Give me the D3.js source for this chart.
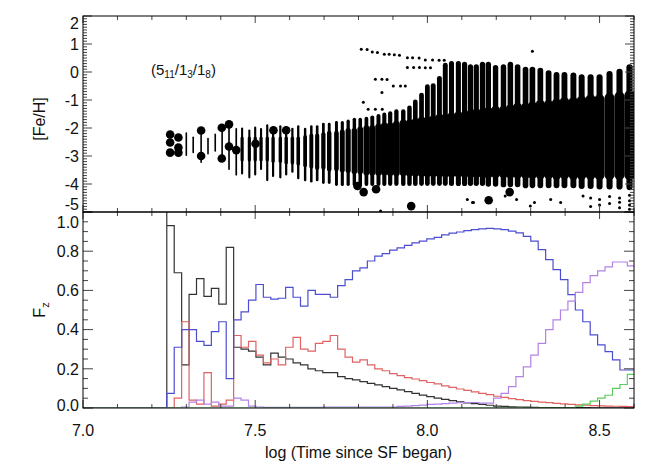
<!DOCTYPE html>
<html><head><meta charset="utf-8">
<script src="https://cdn.jsdelivr.net/npm/d3@7/dist/d3.min.js"></script>
<style>
body{margin:0;background:#fff}
svg{display:block}
text{font-family:"Liberation Sans",Arial,Helvetica,sans-serif;fill:#111}
</style>
</head><body>
<svg id="chart" width="647" height="464"></svg>
<script>
// ---- top panel: columns of stars ([Fe/H] spread per time step)
const colT = [7.300,7.320,7.343,7.363,7.384,7.404,7.424,7.445,
  7.462,7.483,7.500,7.517,7.535,7.552,7.573,7.590,7.608,7.625,
  7.645,7.663,7.680,7.698,7.715,7.736,7.753,7.770,7.788,7.805,
  7.823,7.840,7.858,7.875,7.892,7.910,7.930,7.948,7.965,7.983,
  8.000,8.017,8.035,8.052,8.070,8.090,8.108,8.125,8.142,8.160,
  8.177,8.198,8.221,8.241,8.262,8.285,8.305,8.328,8.352,8.375,
  8.398,8.424,8.448,8.474,8.500,8.529,8.558,8.587]
const colHi = [-2.15,-2.3,-2.2,-2.35,-2.2,-2.0,-1.95,-2.0,
  -1.98,-2.05,-1.95,-2.0,-1.87,-1.95,-1.9,-1.95,-1.99,-1.9,
  -1.99,-1.9,-1.9,-1.81,-1.81,-1.75,-1.75,-1.7,-1.63,-1.63,
  -1.6,-1.55,-1.5,-1.45,-1.4,-1.33,-1.33,-1.2,-0.98,-0.74,
  -0.44,-0.40,-0.14,0.33,0.39,0.39,0.37,0.28,0.28,0.37,
  0.37,0.25,0.28,0.37,0.28,0.19,0.19,0.15,0.06,0.0,
  0.0,-0.02,-0.08,-0.08,-0.08,0.04,0.12,0.28]
const colLo = [-3.0,-2.9,-3.25,-2.95,-2.85,-3.1,-3.5,-3.7,
  -3.66,-3.8,-3.7,-3.5,-3.9,-3.75,-3.8,-3.7,-3.6,-3.83,
  -3.9,-3.95,-3.9,-4.0,-4.0,-4.07,-4.07,-4.07,-4.07,-4.1,
  -4.07,-4.07,-4.07,-4.07,-4.07,-4.07,-4.07,-4.07,-4.07,-4.07,
  -4.07,-4.07,-4.07,-4.07,-4.07,-4.07,-4.07,-4.07,-4.07,-4.07,
  -4.1,-4.1,-4.12,-4.12,-4.12,-4.15,-4.15,-4.15,-4.15,-4.15,
  -4.15,-4.15,-4.18,-4.18,-4.2,-4.2,-4.2,-4.22]
const coreHi = [null,null,null,null,null,null,null,null,
  -2.3,-2.3,-2.3,-2.3,-2.3,-2.3,-2.3,-2.3,-2.3,-2.3,
  -2.25,-2.2,-2.2,-2.15,-2.1,-2.1,-2.05,-2.0,-2.0,-1.95,
  -1.9,-1.9,-1.85,-1.8,-1.8,-1.75,-1.7,-1.7,-1.65,-1.6,
  -1.6,-1.55,-1.5,-1.5,-1.45,-1.4,-1.4,-1.35,-1.3,-1.3,
  -1.25,-1.2,-1.2,-1.15,-1.1,-1.1,-1.05,-1.0,-1.0,-0.95,
  -0.9,-0.9,-0.85,-0.8,-0.8,-0.75,-0.7,-0.65]
const coreLo = [null,null,null,null,null,null,null,null,
  -3.2,-3.2,-3.2,-3.2,-3.2,-3.25,-3.25,-3.3,-3.3,-3.35,
  -3.4,-3.45,-3.5,-3.5,-3.55,-3.55,-3.6,-3.6,-3.65,-3.65,
  -3.7,-3.7,-3.7,-3.7,-3.72,-3.72,-3.72,-3.74,-3.74,-3.74,
  -3.75,-3.75,-3.76,-3.76,-3.77,-3.77,-3.78,-3.78,-3.79,-3.79,
  -3.8,-3.8,-3.8,-3.81,-3.81,-3.82,-3.82,-3.83,-3.83,-3.84,
  -3.84,-3.85,-3.85,-3.85,-3.86,-3.86,-3.86,-3.87]
const colN = [0.04,0.04,0.04,0.04,0.04,0.04,0.05,0.06,
  0.13,0.13,0.14,0.14,0.15,0.15,0.16,0.16,0.17,0.18,
  0.2,0.22,0.24,0.26,0.28,0.3,0.33,0.36,0.39,0.42,
  0.45,0.48,0.5,0.52,0.54,0.56,0.58,0.6,0.62,0.64,
  0.65,0.66,0.67,0.68,0.7,0.71,0.72,0.73,0.74,0.75,
  0.76,0.77,0.78,0.79,0.8,0.81,0.82,0.83,0.84,0.85,
  0.86,0.87,0.88,0.89,0.9,0.91,0.92,0.93]

// large symbols
const bigT = [7.253,7.253,7.253,7.277,7.277,7.277,7.343,7.343,7.403,7.424,7.424,7.403,7.445,
  7.501,7.553,7.590,7.797,7.815,7.851,7.953,8.178,8.239]
const bigF = [-2.23,-2.52,-2.88,-2.34,-2.70,-2.88,-2.09,-3.0,-1.99,-1.87,-2.66,-3.09,-2.79,
  -2.56,-2.08,-2.08,-4.07,-4.29,-4.19,-4.79,-4.58,-4.29]

// isolated small symbols
const dotT = [7.808,7.825,7.840,7.855,7.875,7.889,7.904,7.919,7.942,7.957,7.976,7.994,8.015,8.034,8.049,
  7.942,7.960,7.977,7.994,8.009,
  7.849,7.868,7.883,7.901,7.922,7.936,7.868,7.814,7.828,7.849,7.869,8.305,
  8.134,8.226,8.259,8.299,8.311,8.358,8.387,8.452,8.474,8.474,8.500,8.500,8.529,8.529,
  8.558,8.558,8.558,8.587,8.587,8.587,8.587,8.116,8.131,7.864]
const dotF = [0.81,0.80,0.71,0.70,0.63,0.63,0.62,0.60,0.51,0.51,0.50,0.43,0.43,0.42,0.42,
  0.16,0.16,0.16,0.15,0.15,
  -0.26,-0.26,-0.27,-0.5,-0.5,-0.5,-0.73,-1.08,-1.33,-1.33,-1.33,0.74,
  -4.66,-4.43,-4.55,-4.79,-4.66,-4.55,-4.66,-4.43,-4.5,-4.8,-4.55,-4.75,-4.45,-4.7,
  -4.5,-4.65,-4.85,-4.4,-4.6,-4.75,-4.9,-4.55,-4.66,-4.96]

// ---- bottom panel: fraction per metallicity group, histogram bins
const binStart = 7.2433
const binW = 0.02157
const blackFirstPeak = 1.0   // first black bin runs off the top of the axis
const fBlack = [0.93,0.69,0.22,0.58,0.66,0.57,0.61,0.53,0.82,0.31,0.30,0.29,0.26,0.22,0.28,0.26,
  0.25,0.23,0.22,0.20,0.19,0.18,0.18,0.16,0.15,0.143,0.135,0.126,0.118,0.109,0.10,0.092,
  0.084,0.075,0.066,0.058,0.05,0.044,0.038,0.032,0.026,0.022,0.018,0.014,0.010,0.008,0.006,
  0.005,0.004,0.003,0.002,0.002,0.002,0.002,0.002,0.002,0.002,0.001,0.001,0.001,0.001,0.001,0.001]
const fRed = [0,0.05,0.44,0.04,0.02,0.18,0.01,0.02,0.04,0.37,0.31,0.34,0.27,0.23,0.25,0.22,
  0.31,0.36,0.30,0.29,0.33,0.34,0.37,0.30,0.26,0.234,0.246,0.22,0.20,0.19,0.175,0.165,
  0.155,0.148,0.14,0.13,0.123,0.113,0.105,0.097,0.09,0.082,0.075,0.068,0.06,0.054,0.048,
  0.043,0.038,0.034,0.03,0.027,0.024,0.021,0.018,0.016,0.014,0.012,0.011,0.01,0.009,0.008,0.007]
const fBlue = [0.075,0.31,0.40,0.40,0.34,0.32,0.39,0.44,0.15,0.45,0.49,0.55,0.63,0.565,0.555,0.56,
  0.615,0.565,0.52,0.60,0.58,0.58,0.565,0.624,0.655,0.70,0.715,0.75,0.775,0.788,0.805,0.817,
  0.83,0.842,0.851,0.863,0.871,0.883,0.892,0.898,0.905,0.91,0.914,0.916,0.914,0.91,0.902,
  0.893,0.876,0.851,0.808,0.757,0.706,0.655,0.578,0.50,0.44,0.373,0.322,0.288,0.246,0.194,0.194]
const fPurple = [0,0,0.005,0.03,0.04,0.02,0.03,0.01,0.01,0.05,0.04,0.01,0.005,0.003,0.003,0.003,
  0.003,0.003,0.003,0.003,0.003,0.005,0.005,0.005,0.005,0.005,0.005,0.005,0.005,0.005,0.005,0.008,
  0.01,0.012,0.015,0.018,0.02,0.022,0.025,0.027,0.028,0.028,0.025,0.025,0.05,0.075,0.109,
  0.16,0.21,0.27,0.33,0.40,0.45,0.50,0.545,0.59,0.64,0.675,0.70,0.72,0.745,0.745,0.725]
const fGreen = [0,0,0,0,0,0,0,0,0,0,0,0,0,0,0,0,
  0,0,0,0,0,0,0,0,0,0,0,0,0,0,0,0,
  0,0,0,0,0,0,0,0,0,0,0,0,0,0,0,
  0,0,0,0,0,0,0,0,0.01,0.02,0.035,0.05,0.065,0.1,0.12,0.172]

const xTicks = [7.0, 7.5, 8.0, 8.5]
const feTicks = [2, 1, 0, -1, -2, -3, -4, -5]
const fzTicks = [0.0, 0.2, 0.4, 0.6, 0.8, 1.0]

// ---- layout
const L = 83, R = 634, T = 16, M = 212, B = 408
const svg = d3.select('#chart')
const x = d3.scaleLinear().domain([7.0, 8.6]).range([L, R])
const yFe = d3.scaleLinear().domain([-5, 2]).range([M, T])
const yFz = d3.scaleLinear().domain([0, 1]).range([B, M])
const thinW = d3.scaleLinear().domain([0, 1]).range([1.4, 6.6])
const coreW = d3.scaleLinear().domain([0, 1]).range([2, 10.8])

const defs = svg.append('defs')
defs.append('clipPath').attr('id', 'clipTop')
  .append('rect').attr('x', L).attr('y', T).attr('width', R - L).attr('height', M - T)
defs.append('clipPath').attr('id', 'clipBot')
  .append('rect').attr('x', L).attr('y', M).attr('width', R - L).attr('height', B - M)

// top panel marks
const cols = colT.map((t, i) => ({ t, hi: colHi[i], lo: colLo[i], ch: coreHi[i], cl: coreLo[i], n: colN[i] }))
const gTop = svg.append('g').attr('clip-path', 'url(#clipTop)')
gTop.selectAll('rect.thin').data(cols).join('rect').attr('class', 'thin')
  .attr('x', d => x(d.t) - thinW(d.n) / 2)
  .attr('width', d => thinW(d.n))
  .attr('y', d => yFe(d.hi))
  .attr('height', d => yFe(d.lo) - yFe(d.hi))
  .attr('rx', d => thinW(d.n) / 2)
  .attr('fill', '#000')
gTop.selectAll('rect.core').data(cols.filter(d => d.ch !== null)).join('rect').attr('class', 'core')
  .attr('x', d => x(d.t) - coreW(d.n) / 2)
  .attr('width', d => coreW(d.n))
  .attr('y', d => yFe(d.ch))
  .attr('height', d => yFe(d.cl) - yFe(d.ch))
  .attr('rx', d => coreW(d.n) / 2)
  .attr('fill', '#000')
gTop.selectAll('circle.dot').data(dotT.map((t, i) => [t, dotF[i]])).join('circle').attr('class', 'dot')
  .attr('cx', d => x(d[0])).attr('cy', d => yFe(d[1])).attr('r', 1.5).attr('fill', '#000')
gTop.selectAll('circle.big').data(bigT.map((t, i) => [t, bigF[i]])).join('circle').attr('class', 'big')
  .attr('cx', d => x(d[0])).attr('cy', d => yFe(d[1])).attr('r', 4.3).attr('fill', '#000')

// bottom panel step lines
const stepLine = d3.line().x(d => x(d[0])).y(d => yFz(d[1])).curve(d3.curveStepAfter)
const steps = (vals, peak) => {
  const pts = [[7.0, 0]]
  if (peak !== undefined) pts.push([binStart, peak])
  vals.forEach((v, i) => pts.push([binStart + i * binW, v]))
  pts.push([binStart + vals.length * binW, vals[vals.length - 1]])
  return pts
}
const series = [
  { vals: fBlack, peak: blackFirstPeak, color: '#333' },
  { vals: fRed, color: '#e06262' },
  { vals: fBlue, color: '#4d4dd2' },
  { vals: fPurple, color: '#b482e6' },
  { vals: fGreen, color: '#5ccc5c' }
]
const gBot = svg.append('g').attr('clip-path', 'url(#clipBot)')
gBot.selectAll('path').data(series).join('path')
  .attr('d', s => stepLine(steps(s.vals, s.peak)))
  .attr('fill', 'none').attr('stroke', s => s.color).attr('stroke-width', 1.2)

// ---- frames and ticks
const tickCol = '#444'
const tick = (vals, fn) => svg.append('g').selectAll('line').data(vals).join('line')
  .each(function (v) { const [x1, y1, x2, y2] = fn(v); d3.select(this).attr('x1', x1).attr('y1', y1).attr('x2', x2).attr('y2', y2) })
  .attr('stroke', tickCol).attr('stroke-width', 1)

const xMinor = d3.range(70, 87).map(v => v / 10)
const isMajorX = v => xTicks.some(m => Math.abs(m - v) < 1e-6)
tick(xMinor, v => [x(v), T, x(v), T + (isMajorX(v) ? 7 : 4)])
tick(xMinor, v => [x(v), M, x(v), M - (isMajorX(v) ? 7 : 4)])
tick(xMinor, v => [x(v), M, x(v), M + (isMajorX(v) ? 7 : 4)])
tick(xMinor, v => [x(v), B, x(v), B - (isMajorX(v) ? 8 : 4)])

const feMinor = d3.range(-50, 21).map(v => v / 10)
const isInt = v => Math.abs(v - Math.round(v)) < 1e-6
tick(feMinor, v => [L, yFe(v), L + (isInt(v) ? 9 : 4), yFe(v)])
tick(feMinor, v => [R, yFe(v), R - (isInt(v) ? 9 : 4), yFe(v)])

const fzMinor = d3.range(0, 21).map(v => v / 20)
const isMajF = v => fzTicks.some(m => Math.abs(m - v) < 1e-6)
tick(fzMinor, v => [L, yFz(v), L + (isMajF(v) ? 10 : 5), yFz(v)])
tick(fzMinor, v => [R, yFz(v), R - (isMajF(v) ? 10 : 5), yFz(v)])

svg.append('rect').attr('x', L).attr('y', T).attr('width', R - L).attr('height', M - T)
  .attr('fill', 'none').attr('stroke', '#000').attr('stroke-width', 1)
svg.append('rect').attr('x', L).attr('y', M).attr('width', R - L).attr('height', B - M)
  .attr('fill', 'none').attr('stroke', '#000').attr('stroke-width', 1)

// ---- labels
const fs = 16
svg.append('g').selectAll('text').data(feTicks).join('text')
  .attr('x', L - 4)
  .attr('y', v => yFe(v) + (v === 2 ? 7 : v === -5 ? -8 : 0))
  .attr('dy', '0.36em').attr('text-anchor', 'end').attr('font-size', fs)
  .text(v => d3.format('d')(v).replace('−', '-'))
svg.append('g').selectAll('text').data(fzTicks).join('text')
  .attr('x', L - 4)
  .attr('y', v => yFz(v) + (v === 1 ? 10.5 : v === 0 ? -3 : 0))
  .attr('dy', '0.36em').attr('text-anchor', 'end').attr('font-size', fs)
  .text(v => d3.format('.1f')(v))
svg.append('g').selectAll('text').data(xTicks).join('text')
  .attr('x', v => x(v)).attr('y', 436)
  .attr('text-anchor', 'middle').attr('font-size', fs)
  .text(v => d3.format('.1f')(v))

svg.append('text').attr('x', (L + R) / 2).attr('y', 458)
  .attr('text-anchor', 'middle').attr('font-size', fs)
  .text('log (Time since SF began)')
svg.append('text').attr('transform', 'translate(45,119) rotate(-90)')
  .attr('text-anchor', 'middle').attr('font-size', fs)
  .text('[Fe/H]')
const fz = svg.append('text').attr('transform', 'translate(45,310) rotate(-90)')
  .attr('text-anchor', 'middle').attr('font-size', fs)
fz.append('tspan').text('F')
fz.append('tspan').attr('font-size', 11).attr('dy', 4).text('z')

const lab = svg.append('text').attr('x', 151).attr('y', 78).attr('font-size', 15)
const parts = [['(5', ''], ['11', 's'], ['/1', ''], ['3', 's'], ['/1', ''], ['8', 's'], [')', '']]
parts.forEach(([s, k]) => {
  lab.append('tspan').attr('font-size', k ? 10 : 15).attr('dy', k ? 3 : -3).text(s)
})
</script>
</body></html>
